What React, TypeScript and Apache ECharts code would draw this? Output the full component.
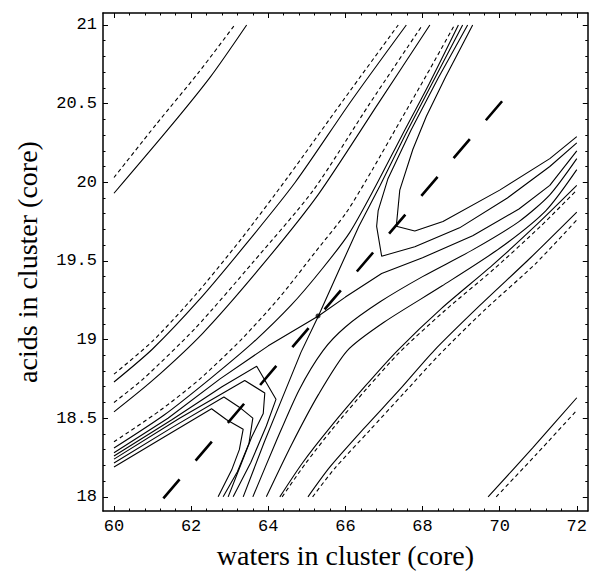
import React, { useEffect, useRef } from "react";
import * as echarts from "echarts";

type Pt = [number, number];

const X_MIN = 59.715;
const X_MAX = 72.285;
const Y_MIN = 17.91;
const Y_MAX = 21.076;

const xTickValues = [60, 62, 64, 66, 68, 70, 72];
const yTickValues = [18, 18.5, 19, 19.5, 20, 20.5, 21];
const xMinorTicks = [60.4, 60.8, 61.2, 61.6, 62.4, 62.8, 63.2, 63.6, 64.4, 64.8, 65.2, 65.6, 66.4, 66.8, 67.2, 67.6, 68.4, 68.8, 69.2, 69.6, 70.4, 70.8, 71.2, 71.6];
const yMinorTicks = [18.1, 18.2, 18.3, 18.4, 18.6, 18.7, 18.8, 18.9, 19.1, 19.2, 19.3, 19.4, 19.6, 19.7, 19.8, 19.9, 20.1, 20.2, 20.3, 20.4, 20.6, 20.7, 20.8, 20.9];

const xTitle = "waters in cluster (core)";
const yTitle = "acids in cluster (core)";

// upper-left family
const pairASolid: Pt[] = [[60, 19.93], [61.45, 20.35], [62.5, 20.67], [63.44, 21.0]];
const pairADashed: Pt[] = [[60, 20.03], [61.1, 20.37], [62.2, 20.7], [63.13, 21.0]];
const pairBSolid: Pt[] = [[60, 18.73], [61.0, 18.94], [62.2, 19.25], [63.4, 19.6], [64.7, 20.0], [66.16, 20.52], [67.58, 21.0]];
const pairBDashed: Pt[] = [[60, 18.78], [61.0, 18.99], [62.1, 19.28], [63.3, 19.64], [64.5, 20.03], [65.94, 20.52], [67.37, 21.0]];
const pairCSolid: Pt[] = [[60, 18.54], [61.0, 18.74], [62.3, 19.04], [63.8, 19.46], [65.29, 19.92], [66.85, 20.5], [68.19, 21.0]];
const pairCDashed: Pt[] = [[60, 18.6], [60.76, 18.75], [62.1, 19.07], [63.6, 19.49], [65.17, 19.95], [66.63, 20.5], [68.0, 21.0]];
const bundleDashed: Pt[] = [[60, 18.35], [61.2, 18.55], [62.23, 18.75], [63.3, 19.0], [64.3, 19.27], [65.2, 19.55], [66.03, 19.81], [66.7, 20.08], [67.4, 20.38], [68.1, 20.68], [68.83, 21.0]];
const bundleSolid: Pt[] = [[60, 18.31], [61.3, 18.52], [62.49, 18.75], [63.6, 18.98], [64.6, 19.22], [65.4, 19.45], [66.11, 19.68], [66.75, 19.96], [67.45, 20.29], [68.18, 20.63], [68.93, 21.0]];

// saddle lines
const saddleRising: Pt[] = [[63.35, 18.0], [63.9, 18.35], [64.4, 18.65], [64.85, 18.92], [65.3, 19.15], [65.85, 19.45], [66.35, 19.72], [66.9, 19.98], [67.55, 20.3], [68.25, 20.63], [69.04, 21.0]];
const saddleFlat: Pt[] = [[60, 18.28], [61.4, 18.5], [62.75, 18.75], [64.0, 18.96], [65.3, 19.15], [66.0, 19.27], [66.94, 19.42], [68.0, 19.52], [69.3, 19.66], [70.5, 19.83], [71.3, 19.98], [72, 20.2]];
const saddlePoint: Pt[] = [[65.29, 19.15]];

// upper-right V shapes
const upperV2: Pt[] = [[69.17, 21.0], [68.4, 20.66], [67.7, 20.33], [67.1, 20.02], [66.85, 19.82], [66.81, 19.72], [66.94, 19.53], [67.8, 19.59], [68.96, 19.71], [70.2, 19.9], [71.3, 20.1], [72, 20.25]];
const upperV1: Pt[] = [[69.3, 21.0], [68.6, 20.67], [68.1, 20.42], [67.75, 20.21], [67.41, 19.95], [67.32, 19.72], [67.8, 19.69], [68.53, 19.75], [70.0, 19.95], [71.3, 20.15], [72, 20.29]];

// lower-left V shapes
const lowerV1: Pt[] = [[60, 18.19], [61.3, 18.38], [62.53, 18.56], [62.92, 18.49], [63.35, 18.43], [63.25, 18.3], [63.05, 18.17], [62.7, 18.0]];
const lowerV1b: Pt[] = [[60, 18.215], [61.5, 18.44], [62.85, 18.635], [63.25, 18.57], [63.6, 18.5], [63.5, 18.34], [63.2, 18.16], [62.83, 18.0]];
const lowerV2: Pt[] = [[60, 18.24], [61.7, 18.5], [63.39, 18.74], [63.91, 18.66], [63.87, 18.53], [63.57, 18.38], [63.25, 18.18], [62.96, 18.0]];
const lowerV2b: Pt[] = [[60, 18.26], [61.5, 18.49], [62.8, 18.7], [63.7, 18.83], [64.2, 18.62], [63.95, 18.45], [63.55, 18.22], [63.09, 18.0]];

// lower-right family
const lowerInner1: Pt[] = [[63.6, 18.0], [64.2, 18.35], [64.8, 18.68], [65.42, 18.93], [66.0, 19.08], [66.9, 19.24], [68.0, 19.4], [69.3, 19.57], [70.5, 19.75], [71.3, 19.92], [72, 20.15]];
const lowerInner2: Pt[] = [[63.95, 18.0], [64.6, 18.33], [65.3, 18.65], [66.05, 18.93], [67.0, 19.11], [68.5, 19.34], [70.0, 19.58], [71.2, 19.82], [72, 20.08]];
const pairDSolid: Pt[] = [[64.3, 18.0], [64.9, 18.22], [65.6, 18.44], [66.5, 18.7], [67.35, 18.93], [68.5, 19.2], [69.8, 19.47], [71.0, 19.74], [72, 19.98]];
const pairDDashed: Pt[] = [[64.36, 18.0], [64.96, 18.21], [65.66, 18.43], [66.56, 18.69], [67.41, 18.92], [68.56, 19.18], [69.86, 19.45], [71.06, 19.72], [72, 19.95]];
const pairESolid: Pt[] = [[65.03, 18.0], [65.6, 18.19], [66.5, 18.44], [67.4, 18.68], [68.3, 18.93], [69.5, 19.22], [70.8, 19.52], [72, 19.81]];
const pairEDashed: Pt[] = [[65.15, 18.0], [65.72, 18.18], [66.62, 18.42], [67.52, 18.66], [68.42, 18.9], [69.62, 19.19], [70.92, 19.48], [72, 19.76]];
const pairFSolid: Pt[] = [[69.7, 18.0], [70.85, 18.31], [72.0, 18.63]];
const pairFDashed: Pt[] = [[69.91, 18.0], [70.95, 18.27], [72.0, 18.55]];

// long-dashed diagonal
const diagonal: Pt[] = [[61.28, 17.99], [70.08, 20.52]];

const contourList: { data: Pt[]; dashed: boolean; smooth: boolean }[] = [
  { data: pairASolid, dashed: false, smooth: true },
  { data: pairADashed, dashed: true, smooth: true },
  { data: pairBSolid, dashed: false, smooth: true },
  { data: pairBDashed, dashed: true, smooth: true },
  { data: pairCSolid, dashed: false, smooth: true },
  { data: pairCDashed, dashed: true, smooth: true },
  { data: bundleDashed, dashed: true, smooth: true },
  { data: bundleSolid, dashed: false, smooth: true },
  { data: saddleRising, dashed: false, smooth: false },
  { data: saddleFlat, dashed: false, smooth: false },
  { data: upperV2, dashed: false, smooth: false },
  { data: upperV1, dashed: false, smooth: false },
  { data: lowerV1, dashed: false, smooth: false },
  { data: lowerV1b, dashed: false, smooth: false },
  { data: lowerV2, dashed: false, smooth: false },
  { data: lowerV2b, dashed: false, smooth: false },
  { data: lowerInner1, dashed: false, smooth: true },
  { data: lowerInner2, dashed: false, smooth: true },
  { data: pairDSolid, dashed: false, smooth: true },
  { data: pairDDashed, dashed: true, smooth: true },
  { data: pairESolid, dashed: false, smooth: true },
  { data: pairEDashed, dashed: true, smooth: true },
  { data: pairFSolid, dashed: false, smooth: true },
  { data: pairFDashed, dashed: true, smooth: true },
];

const LABEL_FONT = "Liberation Mono";
const TITLE_FONT = "Liberation Serif";

function makeXAxis(position: string, values: number[], len: number, showLine: boolean, labels: boolean, name?: string): any {
  return {
    type: "value",
    position,
    min: X_MIN,
    max: X_MAX,
    name: name || "",
    nameLocation: "middle",
    nameGap: 30,
    nameTextStyle: { fontFamily: TITLE_FONT, fontSize: 28, color: "#000" },
    axisLine: { show: showLine, onZero: false, lineStyle: { color: "#000", width: 1.5 } },
    axisTick: { show: true, inside: true, length: len, customValues: values, lineStyle: { color: "#000", width: 1 } },
    axisLabel: labels
      ? { show: true, customValues: values, margin: 7, fontFamily: LABEL_FONT, fontSize: 17, color: "#000", formatter: (v: number) => String(v) }
      : { show: false },
    splitLine: { show: false },
  };
}

function makeYAxis(position: string, values: number[], len: number, showLine: boolean, labels: boolean, name?: string): any {
  return {
    type: "value",
    position,
    min: Y_MIN,
    max: Y_MAX,
    name: name || "",
    nameLocation: "middle",
    nameGap: 62,
    nameTextStyle: { fontFamily: TITLE_FONT, fontSize: 28, color: "#000" },
    axisLine: { show: showLine, onZero: false, lineStyle: { color: "#000", width: 1.5 } },
    axisTick: { show: true, inside: true, length: len, customValues: values, lineStyle: { color: "#000", width: 1 } },
    axisLabel: labels
      ? { show: true, customValues: values, margin: 6, fontFamily: LABEL_FONT, fontSize: 17, color: "#000", formatter: (v: number) => String(v) }
      : { show: false },
    splitLine: { show: false },
  };
}

export default function App() {
  const ref = useRef<HTMLDivElement>(null);
  useEffect(() => {
    if (!ref.current) return;
    const chart = echarts.init(ref.current, undefined, { renderer: "svg" });
    const series: any[] = contourList.map((c) => ({
      type: "line",
      data: c.data,
      showSymbol: false,
      symbol: "none",
      smooth: c.smooth ? 0.25 : false,
      clip: true,
      silent: true,
      lineStyle: { color: "#000", width: 1.1, type: c.dashed ? [4, 3] : "solid" },
    }));
    series.push({
      type: "line",
      data: diagonal,
      showSymbol: false,
      symbol: "none",
      clip: true,
      silent: true,
      lineStyle: { color: "#000", width: 2.6, type: [25, 24.7] },
    });
    series.push({
      type: "scatter",
      data: saddlePoint,
      symbol: "circle",
      symbolSize: 5,
      silent: true,
      itemStyle: { color: "#000" },
    });
    chart.setOption({
      animation: false,
      backgroundColor: "#fff",
      grid: { left: 103, right: 2, top: 13, bottom: 66 },
      xAxis: [
        makeXAxis("bottom", xTickValues, 5, true, true, xTitle),
        makeXAxis("bottom", xMinorTicks, 2.5, false, false),
        makeXAxis("top", xTickValues, 5, true, false),
        makeXAxis("top", xMinorTicks, 2.5, false, false),
      ],
      yAxis: [
        makeYAxis("left", yTickValues, 5, true, true, yTitle),
        makeYAxis("left", yMinorTicks, 2.5, false, false),
        makeYAxis("right", yTickValues, 5, true, false),
        makeYAxis("right", yMinorTicks, 2.5, false, false),
      ],
      series,
    });
    return () => chart.dispose();
  }, []);
  return (
    <div
      ref={ref}
      style={{ position: "absolute", left: 0, top: 0, width: 590, height: 577, background: "#fff" }}
    />
  );
}
